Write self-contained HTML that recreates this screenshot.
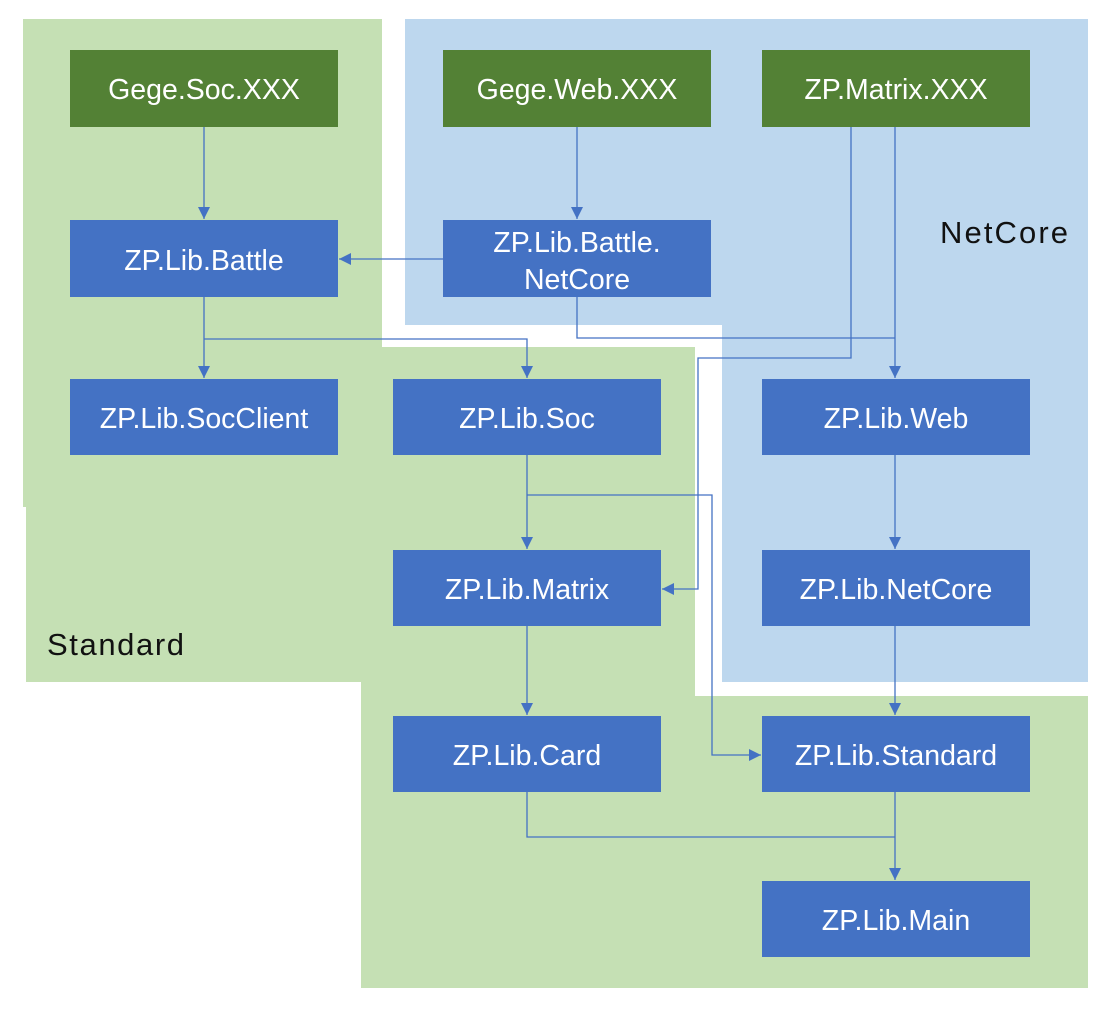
<!DOCTYPE html>
<html><head><meta charset="utf-8"><style>
html,body{margin:0;padding:0;background:#fff;}
svg{display:block;}
text{font-family:"Liberation Sans",sans-serif;}
</style></head><body>
<svg width="1105" height="1010" viewBox="0 0 1105 1010" xmlns="http://www.w3.org/2000/svg">
<defs><marker id="a" markerWidth="14" markerHeight="14" refX="12" refY="6" orient="auto" markerUnits="userSpaceOnUse"><path d="M0,0 L12,6 L0,12 z" fill="#4472C4"/></marker></defs>
<g fill="#C5E0B4">
<rect x="23" y="19" width="359" height="488"/>
<rect x="26" y="340" width="356" height="342"/>
<rect x="382" y="347" width="313" height="349"/>
<rect x="361" y="682" width="334" height="306"/>
<rect x="695" y="696" width="393" height="292"/>
</g>
<g fill="#BDD7EE">
<rect x="405" y="19" width="683" height="306"/>
<rect x="722" y="325" width="366" height="357"/>
</g>
<text x="940" y="243" font-size="31" fill="#111" textLength="128">NetCore</text>
<text x="47" y="655" font-size="31" fill="#111" textLength="137">Standard</text>
<g fill="#fff" fill-opacity="1">
<rect x="70" y="50" width="268" height="77" fill="#538135"/>
<rect x="443" y="50" width="268" height="77" fill="#538135"/>
<rect x="762" y="50" width="268" height="77" fill="#538135"/>
</g>
<g fill="#4472C4">
<rect x="70" y="220" width="268" height="77"/>
<rect x="443" y="220" width="268" height="77"/>
<rect x="70" y="379" width="268" height="76"/>
<rect x="393" y="379" width="268" height="76"/>
<rect x="762" y="379" width="268" height="76"/>
<rect x="393" y="550" width="268" height="76"/>
<rect x="762" y="550" width="268" height="76"/>
<rect x="393" y="716" width="268" height="76"/>
<rect x="762" y="716" width="268" height="76"/>
<rect x="762" y="881" width="268" height="76"/>
</g>
<g fill="#fff" font-size="28.5" text-anchor="middle">
<text x="204" y="99">Gege.Soc.XXX</text>
<text x="577" y="99">Gege.Web.XXX</text>
<text x="896" y="99">ZP.Matrix.XXX</text>
<text x="204" y="270">ZP.Lib.Battle</text>
<text x="577" y="252">ZP.Lib.Battle.</text>
<text x="577" y="289">NetCore</text>
<text x="204" y="428">ZP.Lib.SocClient</text>
<text x="527" y="428">ZP.Lib.Soc</text>
<text x="896" y="428">ZP.Lib.Web</text>
<text x="527" y="599">ZP.Lib.Matrix</text>
<text x="896" y="599">ZP.Lib.NetCore</text>
<text x="527" y="765">ZP.Lib.Card</text>
<text x="896" y="765">ZP.Lib.Standard</text>
<text x="896" y="930">ZP.Lib.Main</text>
</g>
<g stroke="#4472C4" stroke-width="1.3" fill="none">
<path d="M204,127 V219" marker-end="url(#a)"/>
<path d="M577,127 V219" marker-end="url(#a)"/>
<path d="M443,259 H339" marker-end="url(#a)"/>
<path d="M204,297 V378" marker-end="url(#a)"/>
<path d="M204,339 H527 V378" marker-end="url(#a)"/>
<path d="M577,297 V338 H895"/>
<path d="M895,127 V378" marker-end="url(#a)"/>
<path d="M851,127 V358 H698 V589 H662" marker-end="url(#a)"/>
<path d="M527,455 V549" marker-end="url(#a)"/>
<path d="M527,495 H712 V755 H761" marker-end="url(#a)"/>
<path d="M527,626 V715" marker-end="url(#a)"/>
<path d="M895,455 V549" marker-end="url(#a)"/>
<path d="M895,626 V715" marker-end="url(#a)"/>
<path d="M527,792 V837 H895"/>
<path d="M895,792 V880" marker-end="url(#a)"/>
</g>
</svg>
</body></html>
